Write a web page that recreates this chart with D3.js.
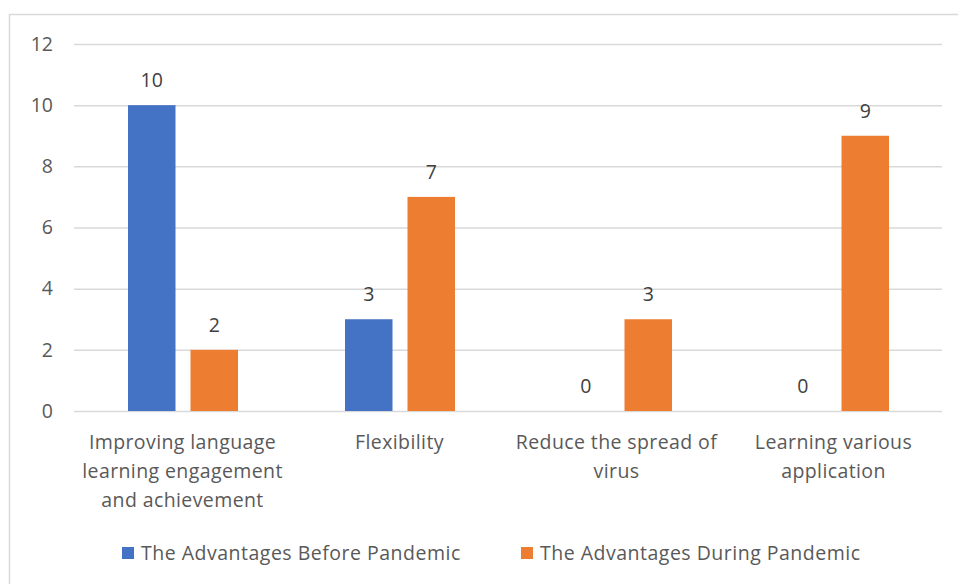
<!DOCTYPE html>
<html><head><meta charset="utf-8">
<script src="https://cdn.jsdelivr.net/npm/d3@7"></script>
<style>body{margin:0;background:#fff;}svg{display:block;}</style>
</head><body><svg id="c" width="958" height="584"></svg>
<script>
const categories = [["Improving language","learning engagement","and achievement"],["Flexibility"],["Reduce the spread of","virus"],["Learning various","application"]];
const seriesNames = ["The Advantages Before Pandemic","The Advantages During Pandemic"];
const before = [10,3,0,0];
const during = [2,7,3,9];
const yTicks = [0,2,4,6,8,10,12];
const colors = ["#4472C4","#ED7D31"];

(function(){
const svg = d3.select("#c");
const font = "'Open Sans', sans-serif";
const fs = "19.5px";
const txt = "#595959";
svg.append("rect").attr("x",9.5).attr("y",14.5).attr("width",960).attr("height",600)
  .attr("fill","none").attr("stroke","#d9d9d9").attr("stroke-width",1.5);

const pl=74, pr=942, pt=44, pb=411;
const x0 = d3.scaleBand().domain(d3.range(categories.length)).range([pl,pr]);
const x1 = d3.scaleBand().domain([0,1]).range([54,164]).paddingInner(0.24);
const y = d3.scaleLinear().domain([0,12]).range([pb,pt]);

const yAxis = d3.axisLeft(y).tickValues(yTicks).tickSize(-(pr-pl)).tickPadding(21);
const ga = svg.append("g").attr("transform",`translate(${pl},0)`).call(yAxis);
ga.select(".domain").remove();
ga.selectAll(".tick line").attr("stroke","#d9d9d9").attr("stroke-width",1.5);
ga.selectAll(".tick text").attr("fill",txt).style("font-family",font).style("font-size",fs);

const data = [before, during];
data.forEach((vals,s)=>{
  const g = svg.append("g");
  g.selectAll("rect").data(vals).join("rect")
    .attr("x",(d,i)=>x0(i)+x1(s)).attr("width",x1.bandwidth())
    .attr("y",d=>y(d)).attr("height",d=>pb-y(d)).attr("fill",colors[s]);
  g.selectAll("text").data(vals).join("text")
    .attr("x",(d,i)=>x0(i)+x1(s)+x1.bandwidth()/2).attr("y",d=>y(d)-18)
    .attr("text-anchor","middle").attr("fill","#404040")
    .style("font-family",font).style("font-size",fs).text(d=>d);
});

categories.forEach((lines,i)=>{
  const t = svg.append("text").attr("text-anchor","middle").attr("fill",txt)
    .style("font-family",font).style("font-size",fs).style("letter-spacing","0.4px");
  lines.forEach((l,j)=>{
    t.append("tspan").attr("x",x0(i)+x0.bandwidth()/2).attr("y",449+j*29).text(l);
  });
});

const legX = [122,521];
seriesNames.forEach((n,s)=>{
  svg.append("rect").attr("x",legX[s]).attr("y",547).attr("width",12).attr("height",12).attr("fill",colors[s]);
  svg.append("text").attr("x",legX[s]+19).attr("y",560).attr("fill",txt)
    .style("font-family",font).style("font-size",fs).style("letter-spacing","0.5px").text(n);
});
})();
</script></body></html>
